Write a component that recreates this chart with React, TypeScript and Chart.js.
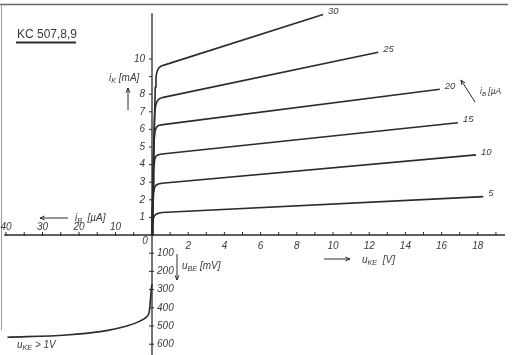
import React, { useEffect, useRef } from 'react';
import { Chart, registerables } from 'chart.js';

Chart.register(...registerables);

// ---- data ----
const baseCurrentLabels = ['5', '10', '15', '20', '25', '30']; // iB [µA]

const uKE_5 = [0, 0.04, 0.08, 0.14, 0.22, 0.35, 0.55, 18.3];
const iK_5 = [0, 0.5, 0.95, 1.1, 1.18, 1.24, 1.28, 2.18];

const uKE_10 = [0, 0.05, 0.09, 0.14, 0.22, 0.35, 0.55, 17.9];
const iK_10 = [0, 1.5, 2.4, 2.7, 2.83, 2.9, 2.94, 4.55];

const uKE_15 = [0, 0.06, 0.1, 0.15, 0.22, 0.35, 0.55, 16.9];
const iK_15 = [0, 2.5, 3.8, 4.3, 4.48, 4.56, 4.6, 6.38];

const uKE_20 = [0, 0.07, 0.12, 0.17, 0.24, 0.35, 0.6, 15.9];
const iK_20 = [0, 3.5, 5.4, 5.9, 6.12, 6.22, 6.27, 8.28];

const uKE_25 = [0, 0.08, 0.15, 0.2, 0.28, 0.4, 0.62, 12.5];
const iK_25 = [0, 4.5, 6.9, 7.35, 7.6, 7.74, 7.82, 10.38];

const uKE_30 = [0, 0.1, 0.18, 0.22, 0.28, 0.38, 0.5, 0.75, 9.45];
const iK_30 = [0, 5.0, 8.4, 9.0, 9.3, 9.5, 9.6, 9.68, 12.53];

// input characteristic (uKE > 1 V)
const iB_in = [0, 0.14, 0.36, 0.55, 0.74, 1.45, 3.3, 6.9, 14.2, 23.4, 39.6];
const uBE_in = [270, 290, 339, 385, 421, 449, 473, 500, 531, 549, 562];

// tick labels
const uKETickLabels = [2, 4, 6, 8, 10, 12, 14, 16, 18];
const uKEMinorTicks = [1, 2, 3, 4, 5, 6, 7, 8, 9, 10, 11, 12, 13, 14, 15, 16, 17, 18, 19];
const iBTickLabels = [10, 20, 30, 40];
const iBMinorTicks = [5, 10, 15, 20, 25, 30, 35, 40];
const iKTickLabels = [1, 2, 3, 4, 5, 6, 7, 8, 10];
const iKMinorTicks = [1, 2, 3, 4, 5, 6, 7, 8, 9, 10];
const uBETickLabels = [100, 200, 300, 400, 500, 600];

const outputCurves = [
  [uKE_5, iK_5],
  [uKE_10, iK_10],
  [uKE_15, iK_15],
  [uKE_20, iK_20],
  [uKE_25, iK_25],
  [uKE_30, iK_30],
];

type Part = [string, boolean];
const titleText = 'KC 507,8,9';
const iKTitle: Part[] = [['i', false], ['K', true], [' [mA]', false]];
const iBTitle: Part[] = [['i', false], ['B', true], ['  [µA]', false]];
const iBTitle2: Part[] = [['i', false], ['B', true], [' [µA', false]];
const uBETitle: Part[] = [['u', false], ['BE', true], [' [mV]', false]];
const uKETitle: Part[] = [['u', false], ['KE', true], ['  [V]', false]];
const condTitle: Part[] = [['u', false], ['KE', true], [' > 1V', false]];

const INK = '#2b2b2b';
const TEXT = '#3a3a3a';
const font = (size: number, italic = true) =>
  `${italic ? 'italic ' : ''}${size}px "Liberation Sans", "DejaVu Sans", sans-serif`;

function drawParts(ctx: CanvasRenderingContext2D, x: number, y: number, parts: Part[], size: number) {
  let cx = x;
  for (const [t, sub] of parts) {
    const s = sub ? size * 0.72 : size;
    ctx.font = font(s);
    ctx.fillText(t, cx, sub ? y + size * 0.3 : y);
    cx += ctx.measureText(t).width;
  }
}

function arrow(ctx: CanvasRenderingContext2D, x1: number, y1: number, x2: number, y2: number) {
  ctx.beginPath();
  ctx.moveTo(x1, y1);
  ctx.lineTo(x2, y2);
  ctx.stroke();
  const a = Math.atan2(y2 - y1, x2 - x1);
  const h = 5;
  ctx.beginPath();
  ctx.moveTo(x2, y2);
  ctx.lineTo(x2 - h * Math.cos(a - 0.4), y2 - h * Math.sin(a - 0.4));
  ctx.moveTo(x2, y2);
  ctx.lineTo(x2 - h * Math.cos(a + 0.4), y2 - h * Math.sin(a + 0.4));
  ctx.stroke();
}

const axesPlugin = {
  id: 'handAxes',
  beforeDatasetsDraw(chart: any) {
    const ctx: CanvasRenderingContext2D = chart.ctx;
    const sx = chart.scales.x, sy = chart.scales.y, sx2 = chart.scales.x2, sy2 = chart.scales.y2;
    const ox = sx.getPixelForValue(0);
    const oy = sy.getPixelForValue(0);
    ctx.save();
    // sheet frame
    ctx.strokeStyle = '#666';
    ctx.lineWidth = 1.5;
    ctx.beginPath();
    ctx.moveTo(0, 4.5); ctx.lineTo(508, 4.5);
    ctx.stroke();
    ctx.strokeStyle = '#999';
    ctx.lineWidth = 1;
    ctx.beginPath();
    ctx.moveTo(1.5, 4.5); ctx.lineTo(1.5, 330);
    ctx.stroke();

    ctx.strokeStyle = INK;
    ctx.lineWidth = 1.3;
    // x axis
    ctx.beginPath();
    ctx.moveTo(sx2.getPixelForValue(40.5), oy);
    ctx.lineTo(sx.getPixelForValue(19.5), oy);
    // y axis
    ctx.moveTo(ox, sy.getPixelForValue(12.6));
    ctx.lineTo(ox, sy2.getPixelForValue(660));
    ctx.stroke();

    ctx.lineWidth = 1;
    ctx.beginPath();
    for (const v of uKEMinorTicks) {
      const p = sx.getPixelForValue(v);
      ctx.moveTo(p, oy); ctx.lineTo(p, oy - 3);
    }
    for (const v of iBMinorTicks) {
      const p = sx2.getPixelForValue(v);
      ctx.moveTo(p, oy + 1); ctx.lineTo(p, oy - 3);
    }
    for (const v of iKMinorTicks) {
      const p = sy.getPixelForValue(v);
      ctx.moveTo(ox, p); ctx.lineTo(ox - 3, p);
    }
    for (const v of uBETickLabels) {
      const p = sy2.getPixelForValue(v);
      ctx.moveTo(ox - 3, p); ctx.lineTo(ox + 2, p);
    }
    ctx.stroke();

    ctx.fillStyle = TEXT;
    ctx.font = font(10);
    ctx.textBaseline = 'middle';
    ctx.textAlign = 'center';
    for (const v of uKETickLabels) ctx.fillText(String(v), sx.getPixelForValue(v), oy + 11);
    for (const v of iBTickLabels) ctx.fillText(String(v), sx2.getPixelForValue(v), oy - 8);
    ctx.fillText('0', ox - 7, oy + 6);
    ctx.textAlign = 'right';
    for (const v of iKTickLabels) ctx.fillText(String(v), ox - 7, sy.getPixelForValue(v));
    ctx.textAlign = 'left';
    for (const v of uBETickLabels) ctx.fillText(String(v), ox + 5, sy2.getPixelForValue(v));
    ctx.restore();
  },
  afterDatasetsDraw(chart: any) {
    const ctx: CanvasRenderingContext2D = chart.ctx;
    const sx = chart.scales.x, sy = chart.scales.y;
    const ox = sx.getPixelForValue(0);
    const oy = sy.getPixelForValue(0);
    ctx.save();
    ctx.fillStyle = TEXT;
    ctx.strokeStyle = INK;
    ctx.lineWidth = 1;
    ctx.textBaseline = 'middle';
    ctx.textAlign = 'left';

    // curve labels at curve ends
    outputCurves.forEach(([xs, ys], i) => {
      const px = sx.getPixelForValue(xs[xs.length - 1]);
      const py = sy.getPixelForValue(ys[ys.length - 1]);
      ctx.font = font(9.5);
      ctx.fillText(baseCurrentLabels[i], px + 5, py - 3);
    });

    // title
    ctx.font = font(12, false);
    ctx.fillText(titleText, ox - 135, oy - 200);
    ctx.lineWidth = 2;
    ctx.beginPath();
    ctx.moveTo(ox - 136, oy - 192.5); ctx.lineTo(ox - 76, oy - 192.5);
    ctx.stroke();
    ctx.lineWidth = 1;

    drawParts(ctx, ox - 43, oy - 157, iKTitle, 10);
    arrow(ctx, ox - 24, oy - 125, ox - 24, oy - 147);

    drawParts(ctx, ox - 77, oy - 17, iBTitle, 10);
    arrow(ctx, ox - 84, oy - 17, ox - 112, oy - 17);

    drawParts(ctx, ox + 30, oy + 31, uBETitle, 10);
    arrow(ctx, ox + 25, oy + 19, ox + 25, oy + 45);

    drawParts(ctx, ox + 210, oy + 25, uKETitle, 10);
    arrow(ctx, ox + 172, oy + 24, ox + 198, oy + 24);

    drawParts(ctx, ox + 328, oy - 143, iBTitle2, 8.5);
    arrow(ctx, ox + 323, oy - 133, ox + 309, oy - 155);

    drawParts(ctx, ox - 135, oy + 110, condTitle, 10);
    ctx.restore();
  },
};

export default function App() {
  const ref = useRef<HTMLCanvasElement>(null);
  useEffect(() => {
    if (!ref.current) return;
    const datasets: any[] = outputCurves.map(([xs, ys], i) => ({
      label: 'iB = ' + baseCurrentLabels[i] + ' µA',
      data: xs.map((x, k) => ({ x, y: ys[k] })),
      xAxisID: 'x',
      yAxisID: 'y',
      tension: 0,
    }));
    datasets.push({
      label: 'input',
      data: iB_in.map((x, k) => ({ x, y: uBE_in[k] })),
      xAxisID: 'x2',
      yAxisID: 'y2',
      cubicInterpolationMode: 'monotone',
    });
    datasets.forEach((d) => {
      d.borderColor = INK;
      d.borderWidth = 1.6;
      d.pointRadius = 0;
      d.fill = false;
      d.borderJoinStyle = 'round';
    });
    const chart = new Chart(ref.current, {
      type: 'line',
      data: { datasets },
      options: {
        responsive: false,
        animation: false,
        devicePixelRatio: 1,
        layout: { padding: 0, autoPadding: false } as any,
        plugins: { legend: { display: false }, tooltip: { enabled: false } },
        scales: {
          x: { type: 'linear', display: false, min: -8.398, max: 20.11 },
          x2: { type: 'linear', display: false, reverse: true, min: -99.73, max: 41.64 },
          y: { type: 'linear', display: false, min: -6.818, max: 13.352 },
          y2: { type: 'linear', display: false, reverse: true, min: -1291.2, max: 659.3 },
        },
      },
      plugins: [axesPlugin],
    });
    return () => chart.destroy();
  }, []);
  return (
    <div style={{ position: 'fixed', left: 0, top: 0, width: 516, height: 355, background: '#fff' }}>
      <canvas ref={ref} width={516} height={355} style={{ display: 'block' }} />
    </div>
  );
}
